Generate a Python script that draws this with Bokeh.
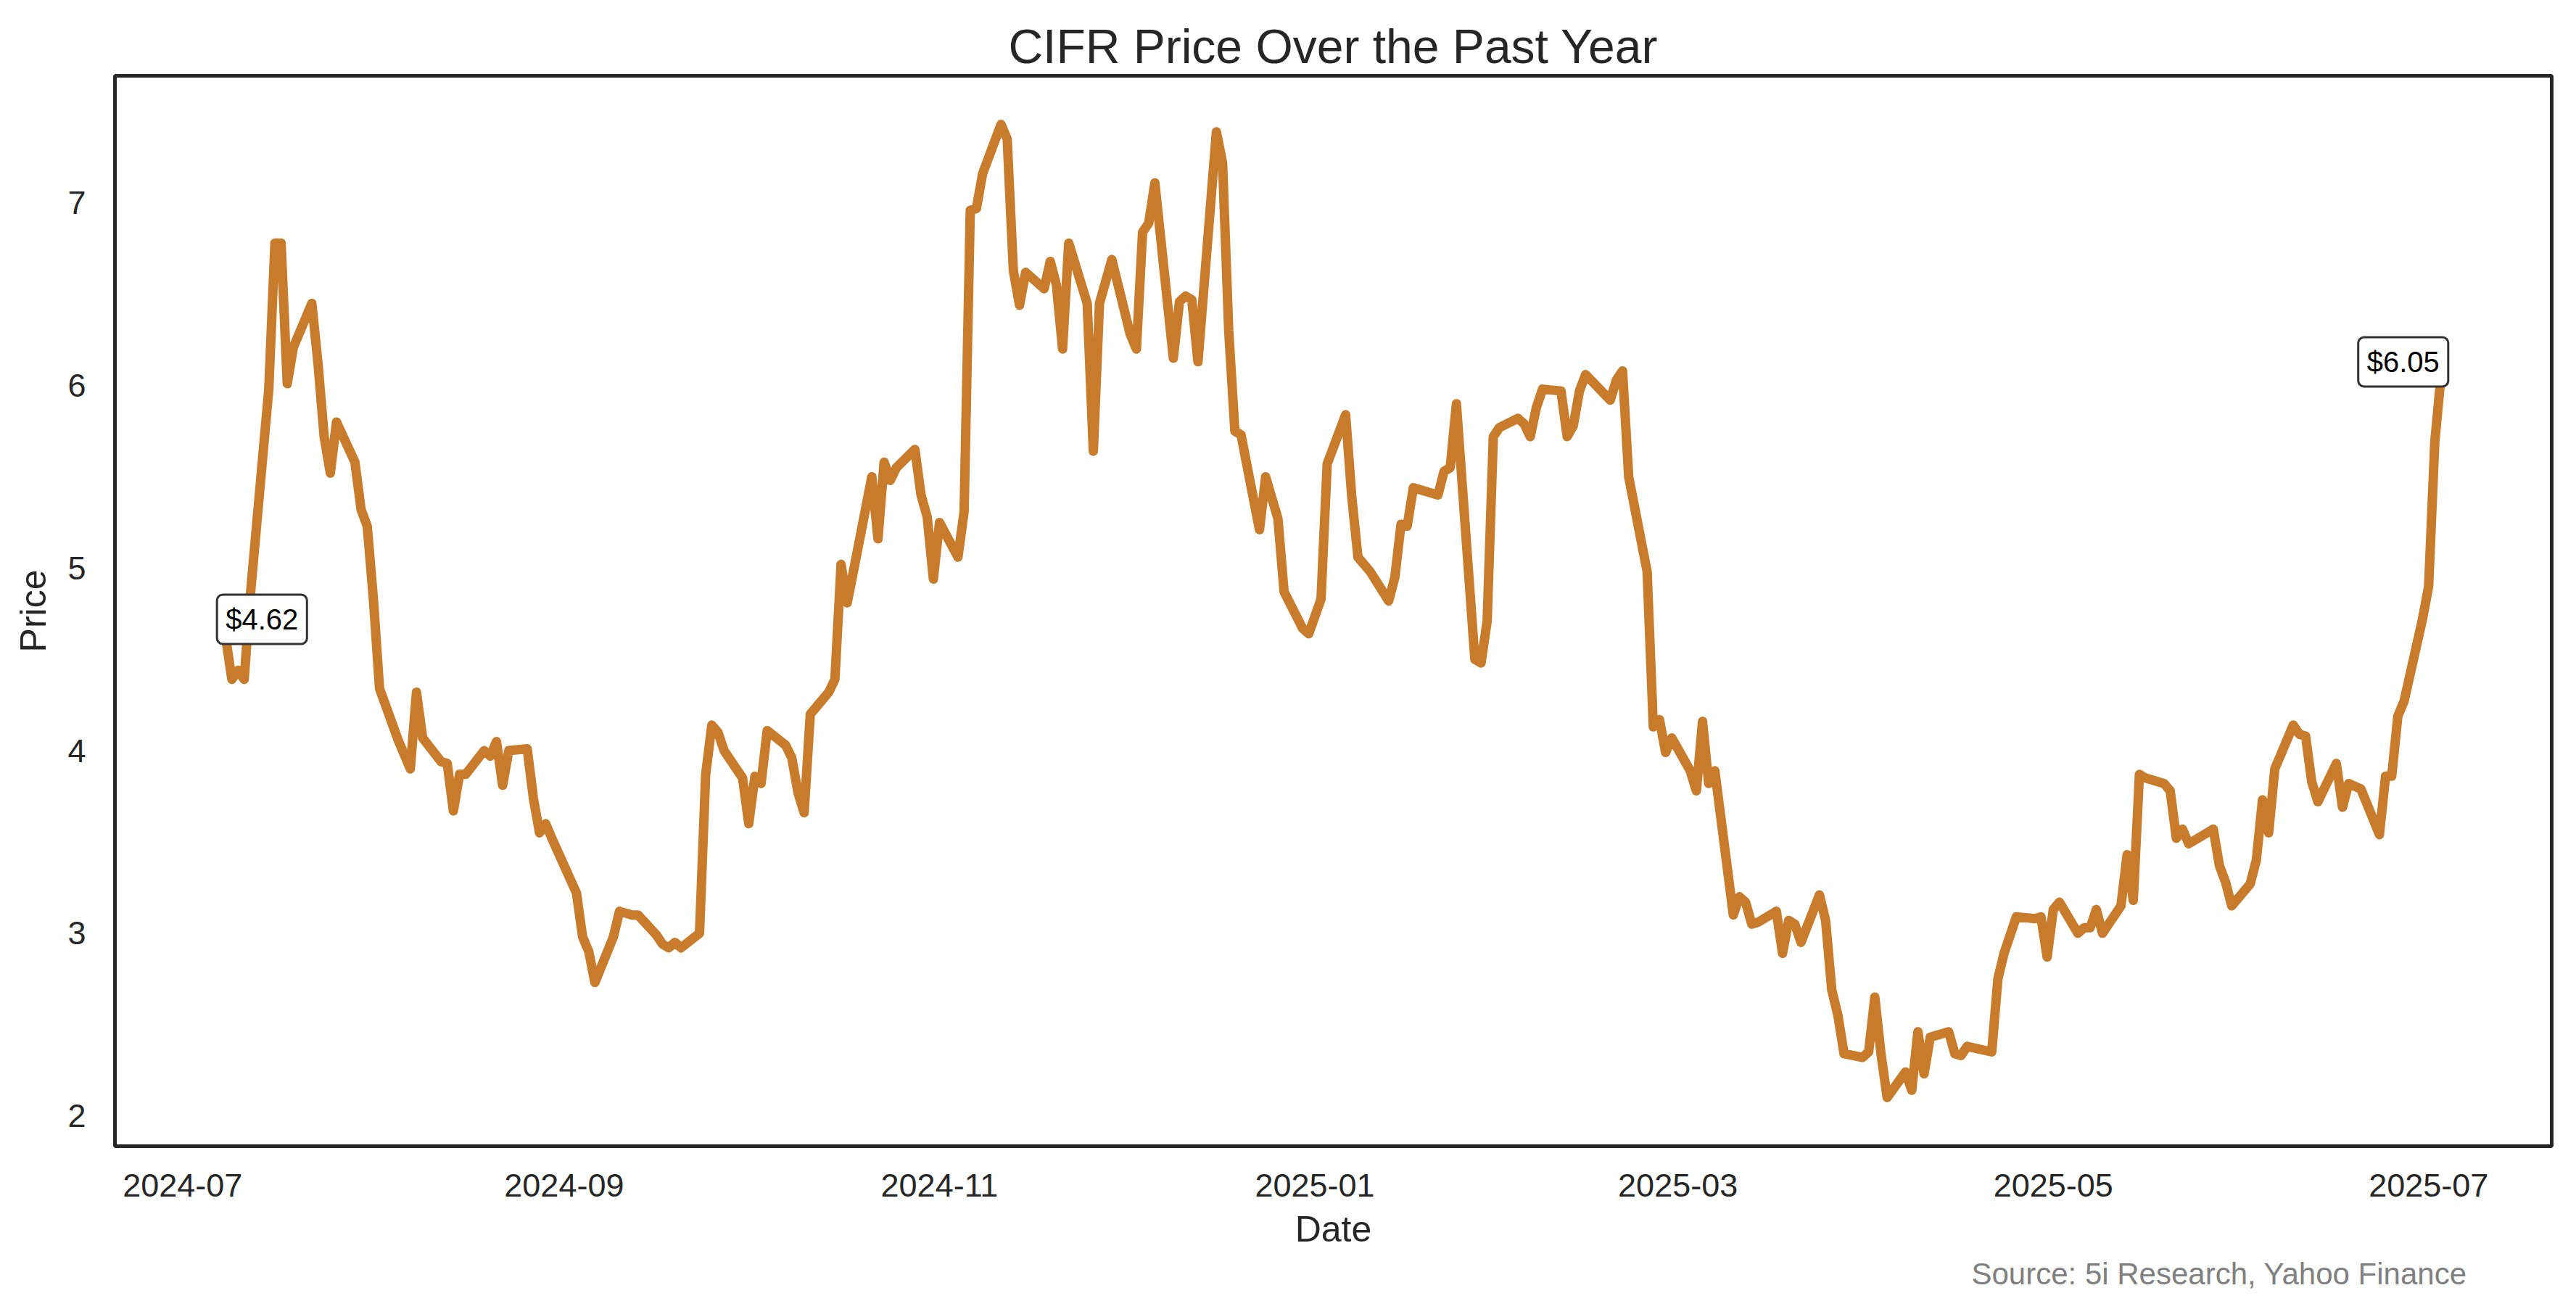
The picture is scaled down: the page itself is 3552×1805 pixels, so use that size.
import pandas as pd
from bokeh.plotting import figure
from bokeh.models import Range1d, FixedTicker, DatetimeTickFormatter, Label, Title, ColumnDataSource
from bokeh.embed import file_html
from bokeh.resources import INLINE

# ---------------- data ----------------
dates_2024 = [
    "2024-07-08", "2024-07-09", "2024-07-10", "2024-07-11", "2024-07-12", "2024-07-15", "2024-07-16",
    "2024-07-17", "2024-07-18", "2024-07-19", "2024-07-22", "2024-07-23", "2024-07-24", "2024-07-25",
    "2024-07-26", "2024-07-29", "2024-07-30", "2024-07-31",
    "2024-08-01", "2024-08-02", "2024-08-05", "2024-08-06", "2024-08-07", "2024-08-08", "2024-08-09",
    "2024-08-12", "2024-08-13", "2024-08-14", "2024-08-15", "2024-08-16", "2024-08-19", "2024-08-20",
    "2024-08-21", "2024-08-22", "2024-08-23", "2024-08-26", "2024-08-27", "2024-08-28", "2024-08-29",
    "2024-08-30",
    "2024-09-03", "2024-09-04", "2024-09-05", "2024-09-06", "2024-09-09", "2024-09-10", "2024-09-11",
    "2024-09-12", "2024-09-13", "2024-09-16", "2024-09-17", "2024-09-18", "2024-09-19", "2024-09-20",
    "2024-09-23", "2024-09-24", "2024-09-25", "2024-09-26", "2024-09-27", "2024-09-30",
    "2024-10-01", "2024-10-02", "2024-10-03", "2024-10-04", "2024-10-07", "2024-10-08", "2024-10-09",
    "2024-10-10", "2024-10-11", "2024-10-14", "2024-10-15", "2024-10-16", "2024-10-17", "2024-10-18",
    "2024-10-21", "2024-10-22", "2024-10-23", "2024-10-24", "2024-10-25", "2024-10-28", "2024-10-29",
    "2024-10-30", "2024-10-31",
    "2024-11-01", "2024-11-04", "2024-11-05", "2024-11-06", "2024-11-07", "2024-11-08", "2024-11-11",
    "2024-11-12", "2024-11-13", "2024-11-14", "2024-11-15", "2024-11-18", "2024-11-19", "2024-11-20",
    "2024-11-21", "2024-11-22", "2024-11-25", "2024-11-26", "2024-11-27", "2024-11-29",
    "2024-12-02", "2024-12-03", "2024-12-04", "2024-12-05", "2024-12-06", "2024-12-09", "2024-12-10",
    "2024-12-11", "2024-12-12", "2024-12-13", "2024-12-16", "2024-12-17", "2024-12-18", "2024-12-19",
    "2024-12-20", "2024-12-23", "2024-12-24", "2024-12-26", "2024-12-27", "2024-12-30", "2024-12-31",
]
prices_2024 = [
    4.62, 4.39, 4.44, 4.39, 4.85, 5.98, 6.78,
    6.78, 6.01, 6.21, 6.45, 6.12, 5.72, 5.52,
    5.80, 5.58, 5.32, 5.23,
    4.83, 4.34, 4.06, 3.98, 3.90, 4.32, 4.07,
    3.94, 3.93, 3.67, 3.87, 3.87, 4.00, 3.97,
    4.05, 3.81, 4.00, 4.01, 3.74, 3.55, 3.60,
    3.52,
    3.22, 2.98, 2.90, 2.73, 2.98, 3.12, 3.11,
    3.10, 3.10, 2.99, 2.94, 2.92, 2.95, 2.92,
    3.00, 3.87, 4.14, 4.10, 4.00, 3.85,
    3.60, 3.86, 3.82, 4.11, 4.03, 3.96, 3.77,
    3.66, 4.20, 4.32, 4.39, 5.02, 4.81, 4.98,
    5.50, 5.16, 5.58, 5.48, 5.55, 5.65, 5.40,
    5.28, 4.94,
    5.25, 5.06, 5.31, 6.96, 6.97, 7.16, 7.43,
    7.35, 6.63, 6.44, 6.62, 6.53, 6.68, 6.55,
    6.20, 6.78, 6.45, 5.64, 6.45, 6.69,
    6.28, 6.20, 6.84, 6.89, 7.11, 6.15, 6.46,
    6.49, 6.47, 6.13, 7.39, 7.22, 6.30, 5.75,
    5.73, 5.21, 5.50, 5.27, 4.87, 4.67, 4.64,
]

dates_2025 = [
    "2025-01-02", "2025-01-03", "2025-01-06", "2025-01-07", "2025-01-08", "2025-01-10", "2025-01-13",
    "2025-01-14", "2025-01-15", "2025-01-16", "2025-01-17", "2025-01-21", "2025-01-22", "2025-01-23",
    "2025-01-24", "2025-01-27", "2025-01-28", "2025-01-29", "2025-01-30", "2025-01-31",
    "2025-02-03", "2025-02-04", "2025-02-05", "2025-02-06", "2025-02-07", "2025-02-10", "2025-02-11",
    "2025-02-12", "2025-02-13", "2025-02-14", "2025-02-18", "2025-02-19", "2025-02-20", "2025-02-21",
    "2025-02-24", "2025-02-25", "2025-02-26", "2025-02-27", "2025-02-28",
    "2025-03-03", "2025-03-04", "2025-03-05", "2025-03-06", "2025-03-07", "2025-03-10", "2025-03-11",
    "2025-03-12", "2025-03-13", "2025-03-14", "2025-03-17", "2025-03-18", "2025-03-19", "2025-03-20",
    "2025-03-21", "2025-03-24", "2025-03-25", "2025-03-26", "2025-03-27", "2025-03-28", "2025-03-31",
    "2025-04-01", "2025-04-02", "2025-04-03", "2025-04-04", "2025-04-07", "2025-04-08", "2025-04-09",
    "2025-04-10", "2025-04-11", "2025-04-14", "2025-04-15", "2025-04-16", "2025-04-17", "2025-04-21",
    "2025-04-22", "2025-04-23", "2025-04-24", "2025-04-25", "2025-04-28", "2025-04-29", "2025-04-30",
    "2025-05-01", "2025-05-02", "2025-05-05", "2025-05-06", "2025-05-07", "2025-05-08", "2025-05-09",
    "2025-05-12", "2025-05-13", "2025-05-14", "2025-05-15", "2025-05-16", "2025-05-19", "2025-05-20",
    "2025-05-21", "2025-05-22", "2025-05-23", "2025-05-27", "2025-05-28", "2025-05-29", "2025-05-30",
    "2025-06-02", "2025-06-03", "2025-06-04", "2025-06-05", "2025-06-06", "2025-06-09", "2025-06-10",
    "2025-06-11", "2025-06-12", "2025-06-13", "2025-06-16", "2025-06-17", "2025-06-18", "2025-06-20",
    "2025-06-23", "2025-06-24", "2025-06-25", "2025-06-26", "2025-06-27", "2025-06-30",
    "2025-07-01", "2025-07-02", "2025-07-03",
]
prices_2025 = [
    4.83, 5.57, 5.84, 5.39, 5.06, 4.98, 4.82,
    4.95, 5.24, 5.23, 5.44, 5.40, 5.53, 5.55,
    5.90, 4.50, 4.48, 4.71, 5.72, 5.77,
    5.82, 5.79, 5.72, 5.88, 5.98, 5.97, 5.72,
    5.78, 5.97, 6.06, 5.92, 6.03, 6.08, 5.50,
    4.98, 4.13, 4.17, 3.99, 4.07,
    3.89, 3.78, 4.16, 3.82, 3.89, 3.10, 3.20,
    3.17, 3.05, 3.06, 3.12, 2.89, 3.07, 3.05,
    2.95, 3.21, 3.07, 2.69, 2.55, 2.34, 2.32,
    2.35, 2.65, 2.34, 2.10, 2.24, 2.14, 2.46,
    2.23, 2.43, 2.46, 2.34, 2.33, 2.38, 2.35,
    2.75, 2.89, 2.99, 3.09, 3.08, 3.09, 2.87,
    3.13, 3.17, 3.00, 3.03, 3.03, 3.13, 3.00,
    3.15, 3.43, 3.18, 3.87, 3.85, 3.82, 3.78,
    3.52, 3.57, 3.49, 3.57, 3.37, 3.28, 3.15,
    3.27, 3.40, 3.73, 3.55, 3.90, 4.14, 4.09,
    4.08, 3.83, 3.72, 3.93, 3.69, 3.82, 3.79,
    3.54, 3.86, 3.86, 4.19, 4.27, 4.72,
    4.90, 5.69, 6.05,
]

x_tick_dates = ["2024-07-01", "2024-09-01", "2024-11-01", "2025-01-01",
                "2025-03-01", "2025-05-01", "2025-07-01"]
y_ticks = [2, 3, 4, 5, 6, 7]

title_text = "CIFR Price Over the Past Year"
x_label = "Date"
y_label = "Price"
source_text = "Source: 5i Research, Yahoo Finance"

assert len(dates_2024) == len(prices_2024)
assert len(dates_2025) == len(prices_2025)

# ---------------- build ----------------
dates = pd.to_datetime(dates_2024 + dates_2025)
prices = prices_2024 + prices_2025
src = ColumnDataSource(dict(date=dates, price=prices))

FONT = "Liberation Sans"
TXT = "#262626"
LINE = "#C77B2B"

xmin, xmax = dates.min(), dates.max()
pad_x = (xmax - xmin) * 0.05
ymin, ymax = min(prices), max(prices)
pad_y = (ymax - ymin) * 0.05

p = figure(width=3536, height=1789, x_axis_type="datetime",
           output_backend="svg", toolbar_location=None,
           x_range=Range1d((xmin - pad_x).to_pydatetime(), (xmax + pad_x).to_pydatetime()),
           y_range=Range1d(ymin - pad_y, ymax + pad_y),
           min_border_left=158, min_border_right=18, min_border_top=104, min_border_bottom=209)

p.background_fill_color = "white"
p.border_fill_color = "white"
p.outline_line_color = TXT
p.outline_line_width = 5
p.xgrid.grid_line_color = None
p.ygrid.grid_line_color = None

p.title.text = title_text
p.title.align = "center"
p.title.text_font = FONT
p.title.text_font_size = "66px"
p.title.text_font_style = "normal"
p.title.text_color = TXT
p.title.standoff = 8

p.xaxis.ticker = FixedTicker(ticks=[pd.Timestamp(d).value / 1e6 for d in x_tick_dates])
fmt = "%Y-%m"
p.xaxis.formatter = DatetimeTickFormatter(milliseconds=fmt, seconds=fmt, minsec=fmt, minutes=fmt,
                                          hourmin=fmt, hours=fmt, days=fmt, months=fmt, years=fmt)
p.yaxis.ticker = FixedTicker(ticks=y_ticks)

for ax in (p.xaxis, p.yaxis):
    ax.axis_line_color = None
    ax.major_tick_line_color = None
    ax.minor_tick_line_color = None
    ax.major_tick_out = 0
    ax.major_tick_in = 0
    ax.major_label_text_font = FONT
    ax.major_label_text_font_size = "45px"
    ax.major_label_text_color = TXT
    ax.axis_label_text_font = FONT
    ax.axis_label_text_font_size = "50px"
    ax.axis_label_text_font_style = "normal"
    ax.axis_label_text_color = TXT

p.xaxis.axis_label = x_label
p.yaxis.axis_label = y_label
p.xaxis.major_label_standoff = 38
p.yaxis.major_label_standoff = 40
p.xaxis.axis_label_standoff = 14
p.yaxis.axis_label_standoff = 16

p.line("date", "price", source=src, line_width=13, line_color=LINE,
       line_join="round", line_cap="round")

def ms(ts):
    return pd.Timestamp(ts).value / 1e6

for xi, yi, dx, dy in ((dates[0], prices[0], 50, 25), (dates[-1], prices[-1], -52, 20)):
    p.add_layout(Label(x=ms(xi), y=yi, text=f"${yi:.2f}", x_offset=dx, y_offset=dy,
                       text_align="center", text_baseline="middle",
                       text_font=FONT, text_font_size="40px", text_color="black",
                       background_fill_color="white", background_fill_alpha=1.0,
                       border_line_color="#333333", border_line_width=3,
                       padding=12, border_radius=8))

p.add_layout(Title(text=source_text, align="left", offset=2560, text_font=FONT,
                   text_font_size="42px", text_font_style="normal", text_color="gray"), "below")

open("out.html", "w").write(file_html(p, INLINE))
